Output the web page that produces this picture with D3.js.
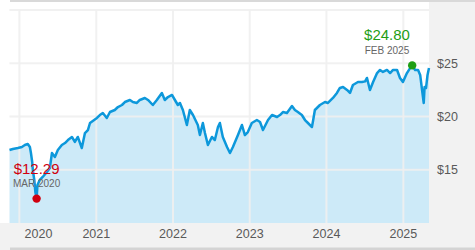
<!DOCTYPE html>
<html><head><meta charset="utf-8">
<script src="https://cdn.jsdelivr.net/npm/d3@7"></script>
<style>html,body{margin:0;padding:0;background:#fff}svg{display:block}</style>
</head><body>
<svg id="c" width="475" height="250"></svg>
<script>
const dates = ["2019-11-15","2019-12-01","2019-12-25","2020-01-13","2020-01-27","2020-02-10","2020-02-20","2020-02-25","2020-03-02","2020-03-05","2020-03-12","2020-03-17","2020-03-23","2020-03-27","2020-04-07","2020-04-21","2020-05-11","2020-05-25","2020-06-04","2020-06-18","2020-07-02","2020-07-21","2020-08-05","2020-08-19","2020-09-07","2020-09-21","2020-10-05","2020-10-24","2020-11-08","2020-11-22","2020-12-02","2021-01-04","2021-01-18","2021-02-01","2021-02-20","2021-03-07","2021-03-30","2021-04-14","2021-05-03","2021-05-17","2021-06-10","2021-06-24","2021-07-13","2021-07-27","2021-08-20","2021-09-04","2021-09-27","2021-10-16","2021-11-09","2021-11-23","2021-12-08","2021-12-27","2022-01-10","2022-01-24","2022-02-03","2022-02-17","2022-03-08","2022-03-22","2022-04-06","2022-04-29","2022-05-09","2022-05-23","2022-06-02","2022-06-16","2022-07-05","2022-07-19","2022-08-03","2022-08-12","2022-08-26","2022-09-15","2022-09-29","2022-10-13","2022-11-06","2022-11-25","2022-12-09","2022-12-23","2023-01-11","2023-02-04","2023-02-19","2023-03-05","2023-03-29","2023-04-17","2023-05-11","2023-05-25","2023-06-08","2023-06-27","2023-07-21","2023-08-04","2023-08-18","2023-09-06","2023-09-21","2023-10-05","2023-10-24","2023-10-30","2023-11-07","2023-12-01","2023-12-25","2024-01-08","2024-02-01","2024-02-20","2024-03-05","2024-03-20","2024-04-08","2024-04-22","2024-05-06","2024-05-30","2024-06-18","2024-07-03","2024-07-12","2024-07-26","2024-08-10","2024-08-29","2024-09-12","2024-09-26","2024-10-15","2024-10-30","2024-11-13","2024-12-02","2024-12-16","2024-12-30","2025-01-18","2025-02-02","2025-02-12","2025-02-26","2025-03-12","2025-03-22","2025-03-31","2025-04-08","2025-04-12","2025-04-19","2025-04-26","2025-05-03"];
const prices = [16.85,16.95,17.04,17.14,17.32,17.42,17.14,16.57,15.73,14.98,14.04,12.91,12.29,13.57,14.04,14.32,14.79,15.16,16.57,16.20,16.85,17.32,17.51,17.79,18.08,17.61,18.08,17.04,18.45,18.73,19.39,19.86,20.14,20.33,19.86,20.42,20.61,20.89,21.08,21.36,21.55,21.36,21.27,21.55,21.74,21.55,21.08,21.55,22.21,21.55,21.83,22.02,21.55,21.08,21.27,20.61,19.20,20.61,20.14,19.20,18.26,19.39,18.45,17.32,18.08,17.79,19.01,19.39,18.08,17.14,16.57,17.14,18.26,19.20,18.26,18.54,19.39,19.67,19.48,18.73,19.67,20.14,19.95,20.14,20.42,20.33,20.99,20.61,20.42,20.14,19.67,19.39,19.01,19.67,20.61,21.08,21.36,21.27,21.74,22.21,22.68,22.77,22.49,22.21,22.96,23.24,23.24,23.30,23.62,22.49,23.24,24.08,24.37,24.18,24.37,24.08,24.37,24.37,23.62,23.24,24.08,24.55,24.80,24.37,24.37,23.90,22.49,21.27,22.77,22.68,23.90,24.55];
const yTicks = [15, 20, 25];
const yGrid = [15, 20, 25, 30];
const xTickYears = [2020, 2021, 2022, 2023, 2024, 2025];
const lowLabel = {date: "2020-03-23", value: 12.29, text: "$12.29", sub: "MAR 2020"};
const highLabel = {date: "2025-02-12", value: 24.80, text: "$24.80", sub: "FEB 2025"};

const parse = d3.timeParse("%Y-%m-%d");
const data = dates.map((d, i) => ({date: parse(d), value: prices[i]}));

const svg = d3.select("#c");
const W = 475, H = 250;
const plot = {left: 9.5, right: 429, top: 10, bottom: 223};

const x = d3.scaleTime().domain(d3.extent(data, d => d.date)).range([plot.left, plot.right]);
const y = d3.scaleLinear().domain([10, 30]).range([plot.bottom, plot.top]);

// panels
svg.append("rect").attr("x", plot.right).attr("y", 0).attr("width", W - plot.right).attr("height", H).attr("fill", "#f2f2f2");
svg.append("rect").attr("x", 0).attr("y", plot.bottom).attr("width", W).attr("height", H - plot.bottom).attr("fill", "#f2f2f2");
svg.append("rect").attr("x", 10).attr("y", 0).attr("width", W - 10).attr("height", 2).attr("fill", "#d9d9d9");
svg.append("rect").attr("x", 10).attr("y", 247.5).attr("width", W - 10).attr("height", 2.5).attr("fill", "#d4d4d4");

// area
const area = d3.area().x(d => x(d.date)).y0(y(10)).y1(d => y(d.value)).curve(d3.curveLinear);
svg.append("path").datum(data).attr("d", area).attr("fill", "#cdeaf8");

// gridlines
const g = svg.append("g");
g.selectAll(".hg").data(yGrid).join("line")
  .attr("x1", plot.left).attr("x2", plot.right)
  .attr("y1", d => y(d)).attr("y2", d => y(d))
  .attr("stroke", "#f0f0f0").attr("stroke-width", 2).attr("opacity", 0.9);
const yearDates = xTickYears.map(yy => new Date(yy, 0, 1));
g.selectAll(".vg").data(yearDates).join("line")
  .attr("x1", d => x(d)).attr("x2", d => x(d))
  .attr("y1", plot.top).attr("y2", plot.bottom)
  .attr("stroke", "#f0f0f0").attr("stroke-width", 2).attr("opacity", 0.9);

// line
const line = d3.line().x(d => x(d.date)).y(d => y(d.value));
svg.append("path").datum(data).attr("d", line).attr("fill", "none")
  .attr("stroke", "#0d98db").attr("stroke-width", 2.5).attr("stroke-linejoin", "round");

// axes
const font = "'Liberation Sans', Arial, sans-serif";
const yAxis = d3.axisRight(y).tickValues(yTicks).tickFormat(d => "$" + d).tickSize(0).tickPadding(8);
const ya = svg.append("g").attr("transform", `translate(${plot.right},0)`).call(yAxis);
ya.select(".domain").remove();
ya.selectAll("text").attr("font-family", font).attr("font-size", 12.5).attr("fill", "#595959");

const xAxis = d3.axisBottom(x).tickValues(yearDates).tickFormat(d3.timeFormat("%Y")).tickSize(0).tickPadding(6);
const xa = svg.append("g").attr("transform", `translate(0,${plot.bottom})`).call(xAxis);
xa.select(".domain").remove();
xa.selectAll("text").attr("font-family", font).attr("font-size", 12.5).attr("fill", "#595959");
xa.selectAll(".tick").attr("transform", d => `translate(${Math.max(x(d), 38.5)},0)`);

// annotations
function annotate(lbl, color) {
  const px = x(parse(lbl.date)), py = y(lbl.value);
  const cx = Math.min(Math.max(px, plot.left + 27), plot.right - 42);
  svg.append("text").attr("x", cx).attr("y", py - 25).attr("text-anchor", "middle")
    .attr("font-family", font).attr("font-size", 15).attr("fill", color).text(lbl.text);
  svg.append("text").attr("x", cx).attr("y", py - 11.5).attr("text-anchor", "middle")
    .attr("font-family", font).attr("font-size", 10).attr("fill", "#666").text(lbl.sub);
  svg.append("circle").attr("cx", px).attr("cy", py).attr("r", 4.2).attr("fill", color);
}
annotate(lowLabel, "#d0000f");
annotate(highLabel, "#1f9e14");
</script>
</body></html>
